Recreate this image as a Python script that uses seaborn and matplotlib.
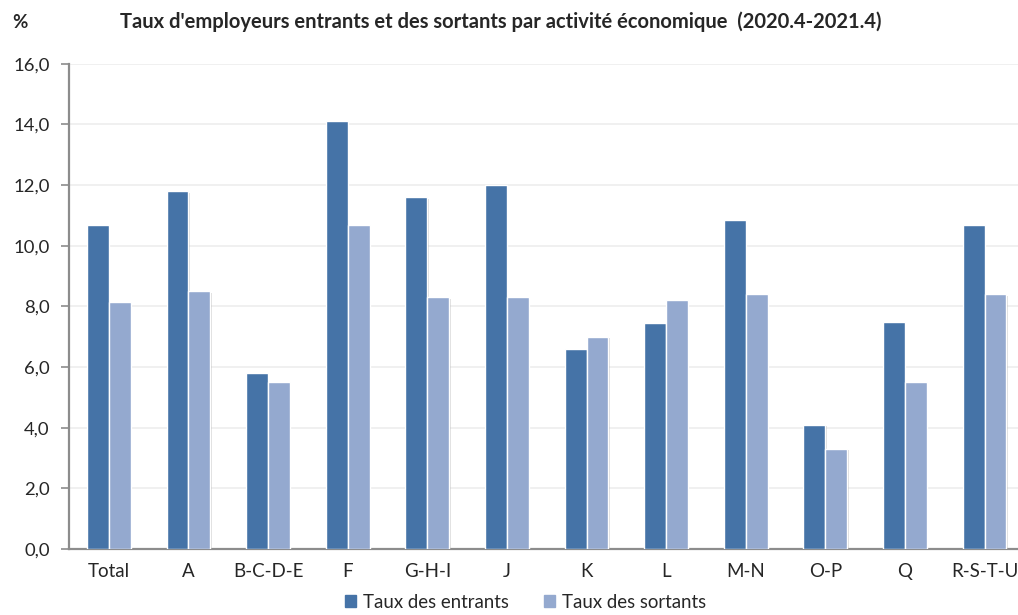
import matplotlib
matplotlib.use("Agg")
import matplotlib.pyplot as plt
import matplotlib.patheffects as pe
import seaborn as sns
import pandas as pd

# Data
categories = ["Total", "A", "B-C-D-E", "F", "G-H-I", "J", "K", "L", "M-N", "O-P", "Q", "R-S-T-U"]
entrants = [10.7, 11.8, 5.8, 14.1, 11.6, 12.0, 6.6, 7.45, 10.85, 4.1, 7.5, 10.7]
sortants = [8.15, 8.5, 5.5, 10.7, 8.3, 8.3, 7.0, 8.2, 8.4, 3.3, 5.5, 8.4]
series_names = ["Taux des entrants", "Taux des sortants"]
yticks = [0, 2, 4, 6, 8, 10, 12, 14, 16]

df = pd.DataFrame({
    "cat": categories * 2,
    "val": entrants + sortants,
    "serie": [series_names[0]] * len(categories) + [series_names[1]] * len(categories),
})

sns.set_style("white")
plt.rcParams["font.family"] = ["Lato", "DejaVu Sans"]

fig = plt.figure(figsize=(10.18, 6.15), dpi=100)
ax = fig.add_axes([0.0678, 0.1073, 0.9385, 0.789])

sns.barplot(data=df, x="cat", y="val", hue="serie", order=categories,
            palette=["#4573A7", "#94A9CF"], saturation=1, width=0.55,
            edgecolor="white", linewidth=1.0, ax=ax, legend=False, zorder=3)

for p in ax.patches:
    p.set_path_effects([pe.withSimplePatchShadow(offset=(1, -1), shadow_rgbFace="#999999", alpha=0.35)])

ax.set_xlim(-0.5, len(categories) - 0.5)
ax.set_ylim(0, 16)
ax.set_yticks(yticks)
ax.set_yticklabels([f"{v:.1f}".replace(".", ",") for v in yticks], fontsize=13.3)
ax.grid(axis="y", color="#eeeeee", linewidth=1.2, zorder=0)
ax.set_xlabel("")
ax.set_ylabel("")

# category boundary ticks on the x axis
ax.set_xticks([i - 0.5 for i in range(len(categories) + 1)], minor=True)
ax.tick_params(axis="x", which="minor", length=6, width=1.2, color="#8c8c8c", direction="out")
ax.tick_params(axis="x", which="major", length=0, pad=10, labelsize=13.5)
ax.tick_params(axis="y", length=6, width=1.2, color="#8c8c8c", direction="out", left=True, pad=8)

for s in ["top", "right"]:
    ax.spines[s].set_visible(False)
for s in ["left", "bottom"]:
    ax.spines[s].set_color("#8c8c8c")
    ax.spines[s].set_linewidth(1.6)

fig.text(0.012, 0.964, "%", fontsize=13.5, fontweight="bold", va="center")
fig.text(0.4915, 0.964, "Taux d'employeurs entrants et des sortants par activité économique  (2020.4-2021.4)",
         fontsize=14.5, fontweight="bold", ha="center", va="center")

handles = [plt.Rectangle((0, 0), 1, 1, color=c) for c in ["#4573A7", "#94A9CF"]]
fig.legend(handles, series_names, loc="center", bbox_to_anchor=(0.516, 0.021), ncol=2,
           frameon=False, fontsize=13.4, handlelength=0.6, handleheight=0.6,
           handletextpad=0.35, columnspacing=1.9)

fig.savefig("out.png", dpi=100)
